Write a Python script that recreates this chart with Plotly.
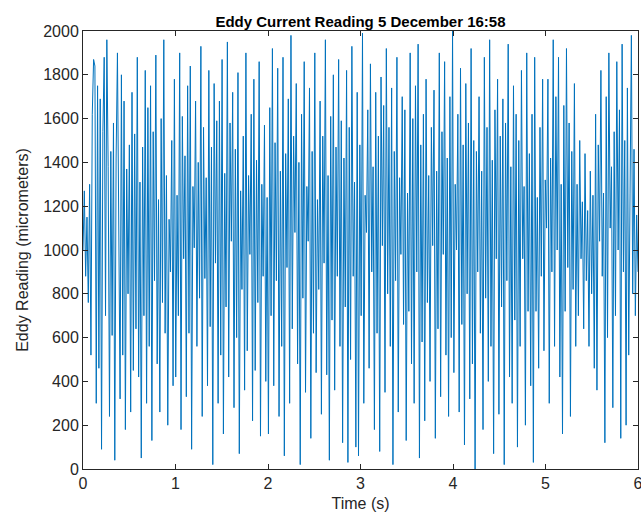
import numpy as np
import plotly.graph_objects as go

seg0 = [1000, 1270, 880, 1150, 760, 1300, 520, 1620, 1870, 1840,
        300, 1750, 460, 1690, 90, 1540, 1880, 700, 1960, 1380,
        240, 1450, 610, 1580, 40, 1420, 1900, 880, 320, 1800,
        520, 1680, 180, 1370, 800, 1480, 260, 1720, 450, 1530,
        640, 1880, 420, 1310, 50, 1470, 700, 1820, 300, 1650,
        560, 1750, 130, 1540, 860, 1890, 480, 1230, 260, 1600,
        760, 1960, 620, 1340, 200, 1140, 900, 1500, 380, 1780]
seg1 = [420, 1250, 700, 1900, 180, 1610, 960, 1430, 330, 1750,
        620, 1840, 90, 1290, 1010, 1680, 560, 1400, 780, 1930,
        240, 1560, 870, 1330, 380, 1820, 650, 1470, 20, 1760,
        940, 1590, 300, 1680, 520, 1870, 160, 1350, 740, 1950,
        420, 1580, 1040, 1720, 280, 1460, 600, 1810, 70, 1270,
        820, 1520, 360, 1900, 540, 1340, 980, 1620, 220, 1780,
        450, 1410, 760, 1860, 150, 1300, 880, 1570, 400, 1240]
seg2 = [160, 1650, 700, 1920, 380, 1490, 860, 1830, 240, 1360,
        560, 1880, 60, 1440, 920, 1690, 300, 1980, 640, 1520,
        1080, 1760, 480, 1400, 20, 1620, 780, 1860, 350, 1290,
        1040, 1740, 140, 1450, 620, 1900, 440, 1230, 820, 1680,
        250, 1520, 940, 1960, 430, 1340, 40, 1610, 680, 1800,
        360, 1470, 880, 1870, 560, 1590, 120, 1420, 740, 1820,
        30, 1560, 500, 1930, 880, 1310, 100, 1720, 60, 1480]
seg3 = [700, 1990, 300, 1250, 1080, 1640, 460, 1850, 900, 1380,
        180, 1720, 620, 1520, 80, 1790, 1020, 1660, 350, 1920,
        800, 1560, 560, 1740, 20, 1450, 860, 1880, 260, 1330,
        980, 1700, 660, 1640, 130, 1260, 720, 1900, 480, 1600,
        300, 1750, 900, 1940, 50, 1480, 580, 1620, 220, 1780,
        760, 1340, 400, 1560, 1020, 1730, 140, 1360, 640, 1900,
        330, 1540, 980, 1860, 520, 1420, 240, 1700, 600, 2000]
seg4 = [440, 1300, 1000, 1620, 260, 1830, 660, 1480, 110, 1760,
        800, 1580, 320, 1920, 480, 1500, 0, 1450, 900, 1700,
        620, 1360, 180, 1880, 780, 1560, 400, 1960, 560, 1410,
        70, 1640, 960, 1780, 250, 1520, 740, 1690, 20, 1580,
        860, 1940, 420, 1380, 300, 1750, 680, 1620, 100, 1500,
        560, 1820, 960, 1290, 200, 1900, 720, 1440, 380, 1620,
        30, 1880, 720, 1240, 460, 1560, 880, 1780, 540, 1320]
seg5 = [1100, 1780, 300, 1420, 900, 1960, 560, 1700, 1000, 1880,
        420, 1300, 160, 1660, 720, 1920, 920, 1580, 240, 1450,
        820, 1760, 560, 1300, 700, 1500, 960, 1220, 640, 1440,
        860, 1180, 560, 1360, 800, 1250, 460, 1620, 360, 1480,
        1040, 1820, 880, 1260, 120, 1700, 600, 1900, 1100, 1380,
        280, 1540, 700, 1860, 1000, 1640, 140, 1940, 900, 1500,
        200, 1740, 520, 1260, 1980, 800, 1460, 700, 1160, 900]

readings = seg0 + seg1 + seg2 + seg3 + seg4 + seg5
t_end = 6
time_s = np.linspace(0, t_end, len(readings))

x_ticks = [0, 1, 2, 3, 4, 5, 6]
y_ticks = [0, 200, 400, 600, 800, 1000, 1200, 1400, 1600, 1800, 2000]

font_family = "Liberation Sans, Arial, Helvetica, sans-serif"
axis_color = "#262626"

fig = go.Figure()
fig.add_trace(go.Scatter(x=time_s, y=readings, mode="lines",
                         line=dict(color="#0072BD", width=1), showlegend=False))

fig.update_layout(
    width=641, height=525,
    margin=dict(l=83, r=3, t=31, b=56, autoexpand=False),
    paper_bgcolor="white", plot_bgcolor="white",
    font=dict(family=font_family, size=16, color=axis_color),
    title=dict(text="<b>Eddy Current Reading 5 December 16:58</b>",
               x=0.5, xref="paper", xanchor="center",
               y=1, yref="paper", yanchor="bottom", pad=dict(b=4),
               font=dict(family=font_family, size=15, color="black")),
)
fig.update_xaxes(range=[0, 6], tickvals=x_ticks, showgrid=False, zeroline=False,
                 showline=True, linecolor=axis_color, linewidth=1, mirror="ticks",
                 ticks="inside", ticklen=5, tickcolor=axis_color,
                 ticklabeloverflow="allow", automargin=False,
                 title=dict(text="Time (s)", font=dict(size=16), standoff=6),
                 tickfont=dict(size=16))
fig.update_yaxes(range=[0, 2000], tickvals=y_ticks, showgrid=False, zeroline=False,
                 showline=True, linecolor=axis_color, linewidth=1, mirror="ticks",
                 ticks="inside", ticklen=5, tickcolor=axis_color,
                 ticklabeloverflow="allow", automargin=False,
                 title=dict(text="Eddy Reading (micrometers)", font=dict(size=16), standoff=10),
                 tickfont=dict(size=16))

fig.write_html("out.html")
